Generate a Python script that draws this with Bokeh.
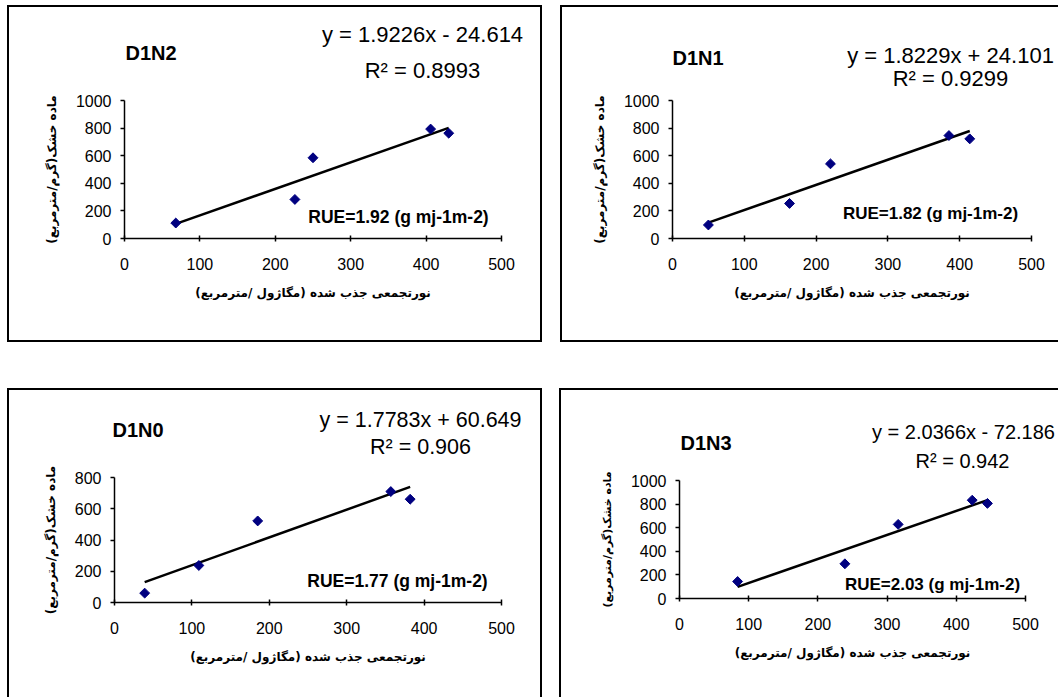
from bokeh.plotting import figure
from bokeh.models import Range1d, FixedTicker, Label, Spacer
from bokeh.layouts import column, row
from bokeh.embed import file_html
from bokeh.resources import INLINE

# ---------------- data ----------------
titles = ["D1N2", "D1N1", "D1N0", "D1N3"]

d1n2_x = [68, 226, 250, 406, 430]
d1n2_y = [112, 283, 585, 793, 763]

d1n1_x = [50, 163, 220, 385, 414]
d1n1_y = [98, 254, 541, 746, 722]

d1n0_x = [39, 109, 185, 357, 382]
d1n0_y = [60, 237, 522, 710, 661]

d1n3_x = [84, 239, 316, 423, 445]
d1n3_y = [144, 294, 628, 833, 806]

slopes = [1.9226, 1.8229, 1.7783, 2.0366]
intercepts = [-24.614, 24.101, 60.649, -72.186]
equations = ["y = 1.9226x - 24.614", "y = 1.8229x + 24.101",
             "y = 1.7783x + 60.649", "y = 2.0366x - 72.186"]
r2_values = ["0.8993", "0.9299", "0.906", "0.942"]
rue_values = ["1.92", "1.82", "1.77", "2.03"]
y_max = [1000, 1000, 800, 1000]

x_ticks = [0, 100, 200, 300, 400, 500]
x_label = "نورتجمعی جذب شده (مگاژول /مترمربع)"
y_label = "ماده خشک(گرم/مترمربع)"

xs = [d1n2_x, d1n1_x, d1n0_x, d1n3_x]
ys = [d1n2_y, d1n1_y, d1n0_y, d1n3_y]

# ---------------- layout / style ----------------
# w,h: canvas size; fl/fw/ft/fh: frame box; hh: header strip height
geom = [
    dict(w=531, h=333, hh=80, fl=115, fw=373, ft=93, fh=136, title=(114, 43), eq=(411, 25), r2=(411, 61), rue=(387, 209),
         eqs="22px", rues="17.5px", yls="12px", borders="ltrb"),
    dict(w=496, h=333, hh=83, fl=110, fw=357, ft=93, fh=136, title=(108, 48), eq=(386, 46), r2=(386, 69), rue=(366, 206),
         eqs="22px", rues="17px", yls="12px", borders="ltb"),
    dict(w=531, h=307, hh=70, fl=105, fw=383, ft=87, fh=125, title=(101, 37), eq=(409, 27), r2=(409, 54), rue=(386, 190),
         eqs="21.5px", rues="17.5px", yls="12px", borders="ltr"),
    dict(w=497, h=307, hh=80, fl=118, fw=344, ft=90, fh=118, title=(117, 50), eq=(400, 39), r2=(399, 68), rue=(369, 194),
         eqs="20px", rues="17px", yls="11px", borders="lt"),
]

NUM_FONT = "Liberation Sans"
FA_FONT = "DejaVu Sans"
MARKER = "#000080"
SIDES = {"l": "border-left", "t": "border-top", "r": "border-right", "b": "border-bottom"}


def css_for(borders, allowed):
    return {v: "2px solid #000" for k, v in SIDES.items() if k in borders and k in allowed}


def lab(p, pos, text, size, bold=False, align="center", font=NUM_FONT):
    p.add_layout(Label(x=pos[0], y=pos[1], x_units="canvas", y_units="canvas",
                       text=text, text_font=font, text_font_size=size,
                       text_font_style="bold" if bold else "normal",
                       text_align=align, text_baseline="middle", text_color="black"))


def make_panel(i):
    g = geom[i]
    hh = g["hh"]
    b = g["borders"]
    extra_w = 2 * (("l" in b) + ("r" in b))

    # header strip holding title, equation and R^2
    hdr = figure(width=g["w"] + extra_w, height=hh + 2,
                 min_border_left=0, min_border_right=0, min_border_top=0, min_border_bottom=0,
                 x_range=Range1d(0, 1), y_range=Range1d(0, 1),
                 x_axis_type=None, y_axis_type=None,
                 output_backend="svg", toolbar_location=None, title=None)
    hdr.frame_align = False
    hdr.outline_line_color = None
    hdr.background_fill_color = "white"
    hdr.border_fill_color = "white"
    hdr.styles = css_for(b, "lrt")
    lab(hdr, g["title"], titles[i], "20px", bold=True, align="left")
    lab(hdr, g["eq"], equations[i], g["eqs"])
    lab(hdr, g["r2"], "R\u00b2 = " + r2_values[i], g["eqs"])

    mh = g["h"] - hh
    mt = g["ft"] - hh
    p = figure(frame_width=g["fw"], frame_height=g["fh"],
               min_border_left=g["fl"], min_border_top=mt,
               min_border_right=g["w"] - g["fl"] - g["fw"],
               min_border_bottom=mh - mt - g["fh"],
               x_range=Range1d(0, 500), y_range=Range1d(0, y_max[i]),
               output_backend="svg", toolbar_location=None, title=None)
    p.frame_align = False
    p.outline_line_color = None
    p.grid.visible = False
    p.background_fill_color = "white"
    p.border_fill_color = "white"
    p.styles = css_for(b, "lrb")

    for ax in (p.xaxis[0], p.yaxis[0]):
        ax.axis_line_color = "black"
        ax.axis_line_width = 1.5
        ax.major_tick_line_color = "black"
        ax.major_tick_line_width = 1.5
        ax.minor_tick_line_color = None
        ax.major_label_text_font = NUM_FONT
        ax.major_label_text_font_size = "16px"
        ax.major_label_text_color = "black"
        ax.axis_label_text_font = FA_FONT
        ax.axis_label_text_font_style = "bold"
        ax.axis_label_text_color = "black"

    p.xaxis.axis_label_text_font_size = "12px"
    p.yaxis.axis_label_text_font_size = g["yls"]
    p.xaxis.ticker = FixedTicker(ticks=x_ticks)
    p.yaxis.ticker = FixedTicker(ticks=list(range(0, y_max[i] + 1, 200)))
    p.xaxis.major_tick_in = 3
    p.xaxis.major_tick_out = 3
    p.xaxis.major_label_standoff = 16
    p.yaxis.major_tick_in = 0
    p.yaxis.major_tick_out = 4
    p.yaxis.major_label_standoff = 9
    p.xaxis.axis_label = x_label
    p.yaxis.axis_label = y_label
    p.xaxis.axis_label_standoff = 13
    p.yaxis.axis_label_standoff = 14

    x = xs[i]
    y = ys[i]
    x0, x1 = min(x), max(x)
    p.line([x0, x1], [slopes[i] * x0 + intercepts[i], slopes[i] * x1 + intercepts[i]],
           line_color="black", line_width=2.5)
    p.scatter(x, y, marker="square", angle=0.785398, size=7,
              fill_color=MARKER, line_color=MARKER)

    lab(p, (g["rue"][0], g["rue"][1] - hh), "RUE=" + rue_values[i] + " (g mj-1m-2)", g["rues"], bold=True)
    return column(hdr, p, spacing=0)


c1, c2, c3, c4 = [make_panel(i) for i in range(4)]

layout = column(
    Spacer(height=5, width=1058),
    row(Spacer(width=7, height=337), c1, Spacer(width=18, height=337), c2),
    Spacer(height=46, width=1058),
    row(Spacer(width=7, height=309), c3, Spacer(width=17, height=309), c4),
)

open("out.html", "w").write(file_html(layout, INLINE))
